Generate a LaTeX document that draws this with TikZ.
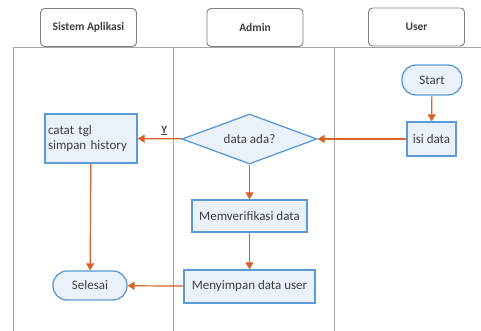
\documentclass[tikz,border=0pt]{standalone}
\usepackage{fontspec}
\setmainfont{Carlito}
\usetikzlibrary{shapes.geometric,arrows.meta}
\definecolor{laneline}{HTML}{A6A6A6}
\definecolor{hdrline}{HTML}{7F7F7F}
\definecolor{nodeline}{HTML}{5B9BD5}
\definecolor{nodefill}{HTML}{EAF1FA}
\definecolor{arrowc}{HTML}{D9622B}
\definecolor{txt}{HTML}{404040}
\tikzset{
  header/.style={draw=hdrline, line width=0.9pt, rounded corners=4pt, minimum width=96pt, minimum height=38pt, font=\fontsize{11.5}{13}\selectfont\bfseries, text=txt},
  procbox/.style={draw=nodeline, fill=nodefill, line width=1.3pt, font=\fontsize{13}{15.5}\selectfont, text=txt, inner sep=2pt},
  termbox/.style={draw=nodeline, fill=nodefill, line width=1.3pt, rounded corners=14pt, font=\fontsize{13}{15.5}\selectfont, text=txt},
  decbox/.style={draw=nodeline, fill=nodefill, line width=1.3pt, diamond, aspect=2.7, font=\fontsize{13}{15.5}\selectfont, text=txt, inner sep=0pt, minimum width=135pt, minimum height=50pt},
  flow/.style={draw=arrowc, line width=1.2pt, -{Triangle[length=7pt,width=8pt]}},
  lane/.style={draw=laneline, line width=0.9pt}
}
\begin{document}
\begin{tikzpicture}[x=1pt,y=-1pt]
\useasboundingbox (0,0) rectangle (481,331);
\fill[white] (0,0) rectangle (481,331);
% lanes
\draw[lane] (13,331) -- (13,47) -- (481,47);
\draw[lane] (173,47) -- (173,331);
\draw[lane] (334,47) -- (334,331);
% headers
\node[header] (h1) at (88.5,27.5) {Sistem Aplikasi};
\node[header] (h2) at (255,27.5) {Admin};
\node[header] (h3) at (416.5,27) {User};
% nodes
\node[termbox, minimum width=60pt, minimum height=30pt] (start) at (432,80) {Start};
\node[procbox, minimum width=49pt, minimum height=34pt] (isi) at (431.5,139) {isi data};
\node[decbox] (dec) at (249.5,139) {data ada?};
\node[procbox, minimum width=92pt, minimum height=49pt, align=left, text width=86pt] (catat) at (91,138.5) {catat tgl\\simpan history};
\node[procbox, minimum width=115pt, minimum height=32pt] (verif) at (249.5,216) {Memverifikasi data};
\node[procbox, minimum width=131pt, minimum height=33pt] (simpan) at (249.5,286.5) {Menyimpan data user};
\node[termbox, minimum width=74pt, minimum height=29pt] (selesai) at (90,285.5) {Selesai};
% connectors
\draw[flow] (start) -- (isi);
\draw[flow] (isi) -- (dec);
\draw[flow] (dec) -- node[above, font=\fontsize{11}{13}\selectfont\bfseries, text=txt, pos=0.4, inner sep=3pt] (ylab) {\underline{Y}} (catat);
\draw[flow] (dec) -- (verif);
\draw[flow] (verif) -- (simpan);
\draw[flow] (catat) -- (selesai);
\draw[flow] (simpan) -- (selesai);
\end{tikzpicture}
\end{document}
